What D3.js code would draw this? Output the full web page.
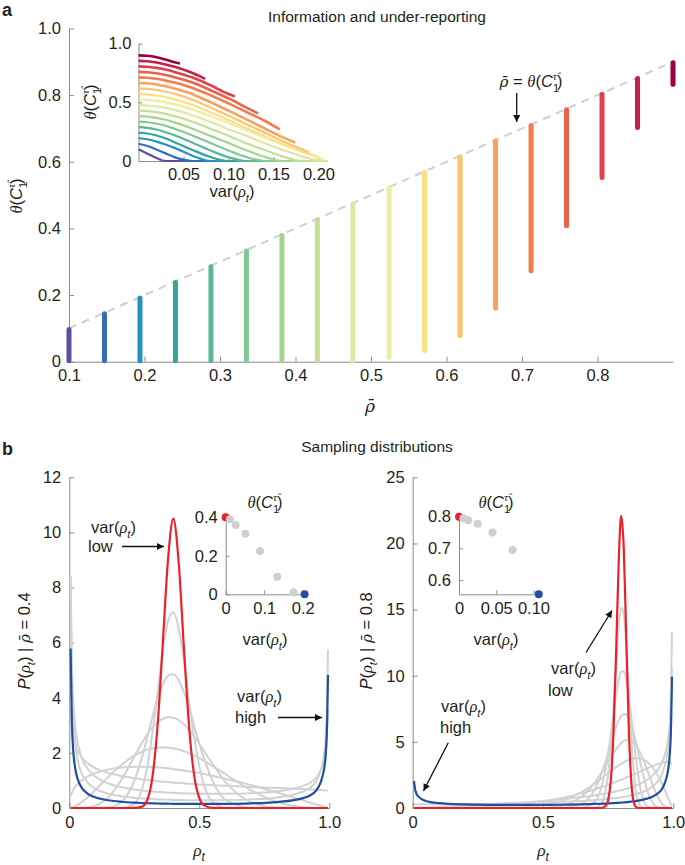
<!DOCTYPE html>
<html><head><meta charset="utf-8">
<script src="https://cdn.jsdelivr.net/npm/d3@7"></script>
<style>
body{margin:0;background:#fff}
text{font-family:"Liberation Sans",Arial,sans-serif;fill:#231f20}
</style>
</head><body>
<svg id="c" width="685" height="865"></svg>
<script>
// ---------------- DATA ----------------
// panel a: mean reporting rate (bars) and range of theta
const rhoBar = [0.100,0.147,0.194,0.241,0.288,0.335,0.382,0.429,0.476,0.524,0.571,0.618,0.665,0.712,0.759,0.806,0.853,0.900];
const barLow = [0,0,0,0,0,0,0,0,0,0.01,0.03,0.075,0.158,0.27,0.405,0.55,0.70,0.83];
const xTicksA = [0.1,0.2,0.3,0.4,0.5,0.6,0.7,0.8];
const yTicksA = [0,0.2,0.4,0.6,0.8,1.0];
// panel a inset: theta vs var(rho_t), one row per rhoBar
const insetVar = [0,0.01,0.02,0.03,0.04,0.06,0.08,0.10,0.12,0.14,0.16,0.18,0.20,0.21];
const insetTheta = [
 [.100,.062,.025,0,0,0,0,0,0,0,0,0,0,0],
 [.147,.128,.098,.065,.033,0,0,0,0,0,0,0,0,0],
 [.194,.185,.165,.140,.112,.045,0,0,0,0,0,0,0,0],
 [.241,.234,.217,.193,.159,.094,.034,0,0,0,0,0,0,0],
 [.288,.282,.268,.245,.219,.156,.089,.032,0,0,0,0,0,0],
 [.335,.330,.317,.300,.275,.218,.154,.090,.034,0,0,0,0,0],
 [.382,.378,.367,.351,.329,.275,.214,.153,.092,.036,0,0,0,0],
 [.429,.425,.416,.401,.382,.335,.275,.215,.150,.094,.039,.002,0,0],
 [.476,.471,.464,.452,.436,.390,.333,.271,.214,.152,.095,.043,.005,0],
 [.524,.521,.512,.500,.484,.440,.384,.324,.262,.201,.140,.084,.033,null],
 [.571,.568,.558,.544,.525,.477,.415,.349,.280,.212,.146,.085,null,null],
 [.618,.615,.605,.590,.572,.522,.456,.386,.314,.242,.171,.104,null,null],
 [.665,.662,.652,.636,.617,.569,.500,.429,.354,.278,.203,null,null,null],
 [.712,.709,.700,.686,.668,.622,.560,.491,.417,.343,null,null,null,null],
 [.759,.756,.747,.732,.714,.668,.603,.533,.455,null,null,null,null,null],
 [.806,.803,.793,.779,.759,.711,.645,.571,null,null,null,null,null,null],
 [.853,.850,.839,.822,.802,.749,null,null,null,null,null,null,null,null],
 [.900,.896,.884,.864,.841,null,null,null,null,null,null,null,null,null]
];
const insetEndVar = [0.21,0.21,0.21,0.21,0.21,0.21,0.21,0.21,0.21,0.205,0.20,0.189,0.174,0.157,0.133,0.107,0.074,0.046];
const insetXTicks = [0.05,0.10,0.15,0.20];
const insetYTicks = [0,0.5,1.0];

// panel b left: rho_bar = 0.4
const rhoGridL = [0.005,0.01,0.02,0.04,0.07,0.1,0.15,0.2,0.25,0.28,0.3,0.32,0.34,0.36,0.38,0.4,0.42,0.44,0.46,0.48,0.5,0.52,0.55,0.6,0.7,0.8,0.9,0.95,0.98,0.99,0.995];
const densLRed = [0,0,0,0,0,0,0,0,0.001,0.05,0.29,1.14,3.04,6.05,9.06,10.5,9.0,5.94,3.04,1.2,0.36,0.085,0.006,0,0,0,0,0,0,0,0];
const densLBlue = [5.79,3.05,1.61,0.86,0.525,0.388,0.28,0.226,0.195,0.182,0.175,0.169,0.164,0.16,0.156,0.153,0.151,0.149,0.148,0.147,0.147,0.147,0.148,0.151,0.17,0.216,0.36,0.638,1.41,2.60,4.83];
const densLGray = [
 [0,0,0,0,0,0,0,0.004,0.16,0.69,1.48,2.75,4.22,5.7,6.79,7.1,6.55,5.42,3.94,2.59,1.51,0.78,0.23,0.016,0,0,0,0,0,0,0],
 [0,0,0,0,0,0,0.018,0.21,0.99,1.86,2.56,3.32,3.97,4.48,4.8,4.85,4.65,4.22,3.67,3.0,2.34,1.75,1.01,0.30,0.008,0,0,0,0,0,0],
 [0,0,0,0.001,0.018,0.08,0.39,1.02,1.87,2.37,2.67,2.93,3.11,3.24,3.3,3.28,3.19,3.05,2.84,2.6,2.33,2.04,1.62,0.96,0.21,0.016,0,0,0,0,0],
 [0.004,0.014,0.047,0.156,0.38,0.65,1.13,1.56,1.9,2.04,2.11,2.16,2.19,2.2,2.19,2.17,2.12,2.06,1.99,1.9,1.81,1.7,1.53,1.23,0.64,0.22,0.03,0.004,0,0,0],
 [0.43,0.56,0.73,0.94,1.14,1.27,1.40,1.47,1.50,1.50,1.49,1.485,1.47,1.46,1.44,1.41,1.39,1.36,1.33,1.30,1.27,1.23,1.17,1.065,0.83,0.56,0.27,0.13,0.048,0.022,0.01],
 [3.79,3.03,2.43,1.95,1.63,1.45,1.27,1.16,1.08,1.04,1.015,0.994,0.974,0.956,0.939,0.923,0.908,0.894,0.881,0.868,0.856,0.845,0.829,0.804,0.761,0.723,0.687,0.666,0.647,0.636,0.627],
 [8.30,5.20,3.26,2.06,1.43,1.14,0.89,0.757,0.673,0.636,0.616,0.599,0.584,0.571,0.559,0.549,0.541,0.533,0.527,0.522,0.518,0.516,0.513,0.515,0.538,0.607,0.803,1.11,1.75,2.49,3.56],
 [8.42,4.67,2.60,1.46,0.927,0.701,0.518,0.425,0.369,0.346,0.333,0.323,0.314,0.306,0.300,0.294,0.290,0.286,0.283,0.281,0.280,0.280,0.281,0.286,0.313,0.384,0.599,0.983,1.96,3.35,5.75]
];
const yTicksBL = [0,2,4,6,8,10,12];
// left inset dots
const dotVarL = [0,0.011,0.026,0.051,0.089,0.134,0.176,0.205];
const dotThetaL = [0.4,0.39,0.36,0.315,0.225,0.091,0.01,0];

// panel b right: rho_bar = 0.8
const rhoGridR = [0.005,0.01,0.02,0.05,0.1,0.2,0.3,0.4,0.5,0.55,0.6,0.65,0.7,0.72,0.74,0.75,0.76,0.77,0.78,0.79,0.80,0.81,0.82,0.83,0.84,0.85,0.86,0.88,0.9,0.92,0.94,0.96,0.98,0.99,0.995];
const densRRed = [0,0,0,0,0,0,0,0,0,0,0,0,0,0,0.14,0.6,2.05,5.5,11.4,18.3,22.1,19.6,12.5,5.6,1.69,0.33,0.04,0,0,0,0,0,0,0,0];
const densRBlue = [2.03,1.343,0.894,0.531,0.368,0.27,0.239,0.231,0.238,0.247,0.26,0.28,0.307,0.321,0.338,0.347,0.358,0.369,0.381,0.394,0.409,0.425,0.443,0.463,0.486,0.511,0.541,0.613,0.711,0.856,1.097,1.56,2.877,5.33,9.92];
const densRGray = [
 [0,0,0,0,0,0,0,0,0,0,0,0,0.03,0.24,1.28,2.56,4.62,7.47,10.7,13.6,15.15,14.6,12.1,8.5,4.95,2.35,0.89,0.06,0,0,0,0,0,0,0],
 [0,0,0,0,0,0,0,0,0,0,0,0.02,0.49,1.3,2.94,4.12,5.5,7.0,8.44,9.6,10.3,10.34,9.67,8.4,6.7,4.87,3.19,0.95,0.15,0.01,0,0,0,0,0],
 [0,0,0,0,0,0,0,0,0,0.005,0.05,0.33,1.46,2.35,3.51,4.17,4.84,5.5,6.09,6.59,6.94,7.1,7.04,6.75,6.24,5.54,4.7,2.88,1.34,0.42,0.07,0.005,0,0,0],
 [0,0,0,0,0,0,0,0.001,0.025,0.1,0.33,0.89,1.96,2.54,3.18,3.51,3.83,4.15,4.43,4.69,4.9,5.05,5.15,5.15,5.07,4.9,4.65,3.88,2.87,1.79,0.85,0.25,0.023,0.002,0],
 [0,0,0,0,0,0,0.004,0.04,0.21,0.41,0.74,1.22,1.87,2.16,2.47,2.62,2.77,2.92,3.07,3.21,3.33,3.45,3.56,3.65,3.71,3.76,3.77,3.70,3.48,3.08,2.47,1.68,0.76,0.31,0.12],
 [0,0,0,0,0.002,0.024,0.091,0.234,0.484,0.659,0.871,1.124,1.42,1.55,1.69,1.76,1.83,1.91,1.98,2.06,2.14,2.22,2.31,2.39,2.48,2.56,2.64,2.82,3.0,3.17,3.32,3.45,3.49,3.42,3.29],
 [0.004,0.0075,0.015,0.039,0.079,0.168,0.269,0.387,0.53,0.615,0.711,0.824,0.959,1.02,1.088,1.125,1.163,1.204,1.247,1.293,1.342,1.394,1.449,1.51,1.575,1.646,1.724,1.905,2.135,2.44,2.878,3.6,5.2,7.43,10.55],
 [0.294,0.287,0.281,0.277,0.281,0.299,0.326,0.362,0.412,0.445,0.485,0.535,0.6,0.631,0.667,0.687,0.708,0.731,0.756,0.782,0.812,0.844,0.879,0.917,0.96,1.008,1.061,1.192,1.368,1.62,2.013,2.739,4.633,7.84,13.28]
];
const yTicksBR = [0,5,10,15,20,25];
const dotVarR = [0,0.006,0.0125,0.025,0.045,0.072,0.107];
const dotThetaR = [0.8,0.795,0.789,0.778,0.75,0.695,0.555];
const xTicksB = [0,0.5,1.0];

// ---------------- DRAWING ----------------
const svg = d3.select('#c');
const AX = '#8c8c8c', TXT = '#231f20', GRAY = '#d2d2d2', RED = '#ec2127', BLUE = '#1f4fa3';
const FS = 16.5, FT = 15.5;
const SERIF = '"Liberation Serif","DejaVu Serif",serif';
const palette = ['#5a4ea1','#2e6bb8','#1e9bd0','#2ea391','#5cb98f','#86c99c','#a3d48a','#c8e190','#dde9a2',
                 '#eff0a9','#fbe27d','#fbc571','#f7a263','#f1794b','#ec6447','#e04150','#c8204e','#9e0142'];
const cmap = d3.interpolateRgbBasis(palette);
const spec = i => cmap(i / (rhoBar.length - 1));

function styleAxis(g, fs) {
  g.selectAll('.domain').attr('stroke', AX).attr('stroke-width', 1);
  g.selectAll('.tick line').attr('stroke', AX).attr('stroke-width', 1);
  g.selectAll('.tick text').attr('fill', TXT).attr('font-size', fs || FS)
    .attr('font-family', '"Liberation Sans",Arial,sans-serif');
}
const fmtZ = f => (d => d === 0 ? '0' : d3.format(f)(d));

// math text helper
function mtext(x, y, parts, size, anchor, rot) {
  const t = svg.append('text').attr('font-size', size).attr('text-anchor', anchor || 'middle');
  if (rot) t.attr('transform', `translate(${x},${y}) rotate(-90)`);
  else t.attr('x', x).attr('y', y);
  let cur = 0;
  parts.forEach(p => {
    const target = p.sub ? size * 0.3 : p.sup ? -size * 0.42 : 0;
    const sp = t.append('tspan').text(p.t);
    if (target !== cur) { sp.attr('dy', target - cur); cur = target; }
    if (p.sub || p.sup) sp.attr('font-size', size * 0.68);
    if (p.it) sp.attr('font-style', 'italic');
    if (p.serif) sp.attr('font-family', SERIF);
    if (p.dv) sp.attr('font-family', '"DejaVu Serif",serif').attr('font-size', size * 0.92);
    if (p.dx) sp.attr('dx', p.dx * size);
  });
  return t;
}
const rhoBarPart = {t:'ρ\u0304', it:1, dv:1};
const thetaParts = [{t:'θ', it:1, serif:1}, {t:'('}, {t:'C', it:1}, {t:'1', sub:1}, {t:'τ\u0302', sup:1, it:1, serif:1, dx:-0.38}, {t:')'}];
const varParts = [{t:'var('}, {t:'ρ', it:1, serif:1}, {t:'t', sub:1, it:1}, {t:')'}];
const rhoTParts = [{t:'ρ', it:1, serif:1}, {t:'t', sub:1, it:1}];
const pParts = v => [{t:'P', it:1}, {t:'('}, {t:'ρ', it:1, serif:1}, {t:'t', sub:1, it:1}, {t:') | '}, rhoBarPart, {t:' = ' + v}];

// arrow marker
svg.append('defs').append('marker').attr('id', 'ah').attr('viewBox', '0 0 10 10')
  .attr('refX', 10).attr('refY', 5).attr('markerWidth', 9).attr('markerHeight', 7)
  .attr('markerUnits', 'userSpaceOnUse').attr('orient', 'auto')
  .append('path').attr('d', 'M0,0 L10,5 L0,10 Z').attr('fill', '#111');
function arrow(x1, y1, x2, y2) {
  svg.append('line').attr('x1', x1).attr('y1', y1).attr('x2', x2).attr('y2', y2)
    .attr('stroke', '#111').attr('stroke-width', 1.3).attr('marker-end', 'url(#ah)');
}

// panel labels and titles
svg.append('text').attr('x', 2).attr('y', 16).attr('font-size', 18).attr('font-weight', 'bold').text('a');
svg.append('text').attr('x', 2).attr('y', 455).attr('font-size', 18).attr('font-weight', 'bold').text('b');
svg.append('text').attr('x', 377).attr('y', 22).attr('font-size', FT).attr('text-anchor', 'middle').text('Information and under-reporting');
svg.append('text').attr('x', 377).attr('y', 452).attr('font-size', FT).attr('text-anchor', 'middle').text('Sampling distributions');

// ---- panel a main ----
const xA = d3.scaleLinear().domain([0.1, 0.9]).range([69, 673]);
const yA = d3.scaleLinear().domain([0, 1]).range([361.7, 28.5]);

svg.append('g').attr('transform', `translate(0,${yA(0)})`)
  .call(d3.axisBottom(xA).tickValues(xTicksA).tickFormat(d3.format('.1f')).tickSize(-5).tickSizeOuter(0).tickPadding(8))
  .call(g => styleAxis(g));
svg.append('g').attr('transform', `translate(${xA(0.1)},0)`)
  .call(d3.axisLeft(yA).tickValues(yTicksA).tickFormat(fmtZ('.1f')).tickSize(-5).tickSizeOuter(0).tickPadding(8))
  .call(g => styleAxis(g));

svg.append('line')
  .attr('x1', xA(rhoBar[0])).attr('y1', yA(rhoBar[0]))
  .attr('x2', xA(rhoBar[rhoBar.length - 1])).attr('y2', yA(rhoBar[rhoBar.length - 1]))
  .attr('stroke', '#cfcfcf').attr('stroke-width', 2).attr('stroke-dasharray', '8,6');

svg.append('g').selectAll('line').data(rhoBar).join('line')
  .attr('x1', d => xA(d)).attr('x2', d => xA(d))
  .attr('y1', (d, i) => yA(barLow[i]) - 1).attr('y2', d => yA(d) + 1)
  .attr('stroke', (d, i) => spec(i)).attr('stroke-width', 5).attr('stroke-linecap', 'round');

mtext(22, 196, thetaParts, FS, 'middle', true);
mtext(370, 412, [rhoBarPart], FS + 2, 'middle');
mtext(531, 87, [rhoBarPart, {t:' = '}, ...thetaParts], FS, 'middle');
arrow(516.7, 93, 516.7, 122);

// ---- panel a inset ----
const xI = d3.scaleLinear().domain([0, 0.21]).range([138.5, 327.5]);
const yI = d3.scaleLinear().domain([0, 1]).range([161, 43.6]);
svg.append('g').attr('transform', `translate(0,${yI(0)})`)
  .call(d3.axisBottom(xI).tickValues(insetXTicks).tickFormat(d3.format('.2f')).tickSize(-4).tickSizeOuter(0).tickPadding(7))
  .call(g => styleAxis(g));
svg.append('g').attr('transform', `translate(${xI(0)},0)`)
  .call(d3.axisLeft(yI).tickValues(insetYTicks).tickFormat(fmtZ('.1f')).tickSize(-4).tickSizeOuter(0).tickPadding(7))
  .call(g => styleAxis(g));
const lineI = d3.line().x(d => xI(d[0])).y(d => yI(d[1])).curve(d3.curveMonotoneX);
insetTheta.forEach((row, k) => {
  const pts = insetVar.map((v, i) => [v, row[i]]).filter(p => p[1] !== null);
  if (insetEndVar[k] > pts[pts.length - 1][0] + 1e-9) pts.push([insetEndVar[k], barLow[k]]);
  svg.append('path').attr('d', lineI(pts)).attr('fill', 'none')
    .attr('stroke', spec(k)).attr('stroke-width', k >= 12 ? 2.6 : 2.2);
});
mtext(96, 102, thetaParts, FS, 'middle', true);
mtext(232, 197, varParts, FS, 'middle');

// ---- panel b ----
function densPanel(x0, x1, yMax, yTicks, grid, grays, blue, red) {
  const x = d3.scaleLinear().domain([0, 1]).range([x0, x1]);
  const y = d3.scaleLinear().domain([0, yMax]).range([808, 477.3]);
  svg.append('g').attr('transform', `translate(0,${y(0)})`)
    .call(d3.axisBottom(x).tickValues(xTicksB).tickFormat(fmtZ('.1f')).tickSize(-5).tickSizeOuter(0).tickPadding(8))
    .call(g => styleAxis(g));
  svg.append('g').attr('transform', `translate(${x(0)},0)`)
    .call(d3.axisLeft(y).tickValues(yTicks).tickFormat(d3.format('d')).tickSize(-5).tickSizeOuter(0).tickPadding(8))
    .call(g => styleAxis(g));
  const ln = d3.line().x(d => x(d[0])).y(d => y(d[1])).curve(d3.curveMonotoneX);
  const draw = (vals, col, w) => svg.append('path').attr('d', ln(grid.map((g, i) => [g, vals[i]])))
    .attr('fill', 'none').attr('stroke', col).attr('stroke-width', w).attr('stroke-linejoin', 'round');
  grays.forEach(v => draw(v, GRAY, 2));
  draw(blue, BLUE, 2.2);
  draw(red, RED, 2.2);
  return {x, y};
}
densPanel(69.3, 329.3, 12, yTicksBL, rhoGridL, densLGray, densLBlue, densLRed);
densPanel(412.7, 673.3, 25, yTicksBR, rhoGridR, densRGray, densRBlue, densRRed);

mtext(30, 641, pParts('0.4'), FS, 'middle', true);
mtext(372, 641, pParts('0.8'), FS, 'middle', true);
mtext(199, 856, rhoTParts, FS + 1, 'middle');
mtext(543, 856, rhoTParts, FS + 1, 'middle');

// annotations b
mtext(91, 533, varParts, FS, 'start');
svg.append('text').attr('x', 88).attr('y', 552).attr('font-size', FS).text('low');
arrow(122, 546.5, 164, 546.5);
mtext(237, 702, varParts, FS, 'start');
svg.append('text').attr('x', 235).attr('y', 723).attr('font-size', FS).text('high');
arrow(278, 717.5, 322, 717.5);
mtext(551, 674, varParts, FS, 'start');
svg.append('text').attr('x', 548).attr('y', 696).attr('font-size', FS).text('low');
arrow(586, 652.5, 612, 610.5);
mtext(441, 712, varParts, FS, 'start');
svg.append('text').attr('x', 440).attr('y', 733).attr('font-size', FS).text('high');
arrow(448.3, 742.7, 423.5, 791);

// insets b
function dotInset(x0, x1, xd, y0, y1, yd, xt, xf, yt, yf, dv, dt, cx) {
  const x = d3.scaleLinear().domain(xd).range([x0, x1]);
  const y = d3.scaleLinear().domain(yd).range([y0, y1]);
  svg.append('g').attr('transform', `translate(0,${y0})`)
    .call(d3.axisBottom(x).tickValues(xt).tickFormat(xf).tickSize(-4).tickSizeOuter(0).tickPadding(8))
    .call(g => styleAxis(g));
  svg.append('g').attr('transform', `translate(${x0},0)`)
    .call(d3.axisLeft(y).tickValues(yt).tickFormat(yf).tickSize(-4).tickSizeOuter(0).tickPadding(8))
    .call(g => styleAxis(g));
  const n = dv.length;
  svg.append('g').selectAll('circle').data(dv).join('circle')
    .attr('cx', d => x(d)).attr('cy', (d, i) => y(dt[i])).attr('r', 4)
    .attr('fill', (d, i) => i === 0 ? RED : i === n - 1 ? BLUE : '#cfcfcf');
  mtext(cx, 508, thetaParts, FS, 'middle');
  mtext(cx, 645, varParts, FS, 'middle');
}
dotInset(225.7, 302.7, [0, 0.2], 594.3, 517.3, [0, 0.4], [0, 0.1, 0.2], fmtZ('.1f'), [0, 0.2, 0.4], fmtZ('.1f'), dotVarL, dotThetaL, 265);
dotInset(459, 533.5, [0, 0.1], 594.3, 516.7, [0.555, 0.8], [0, 0.05, 0.10], fmtZ('.2f'), [0.6, 0.7, 0.8], d3.format('.1f'), dotVarR, dotThetaR, 496);
</script>
</body></html>
